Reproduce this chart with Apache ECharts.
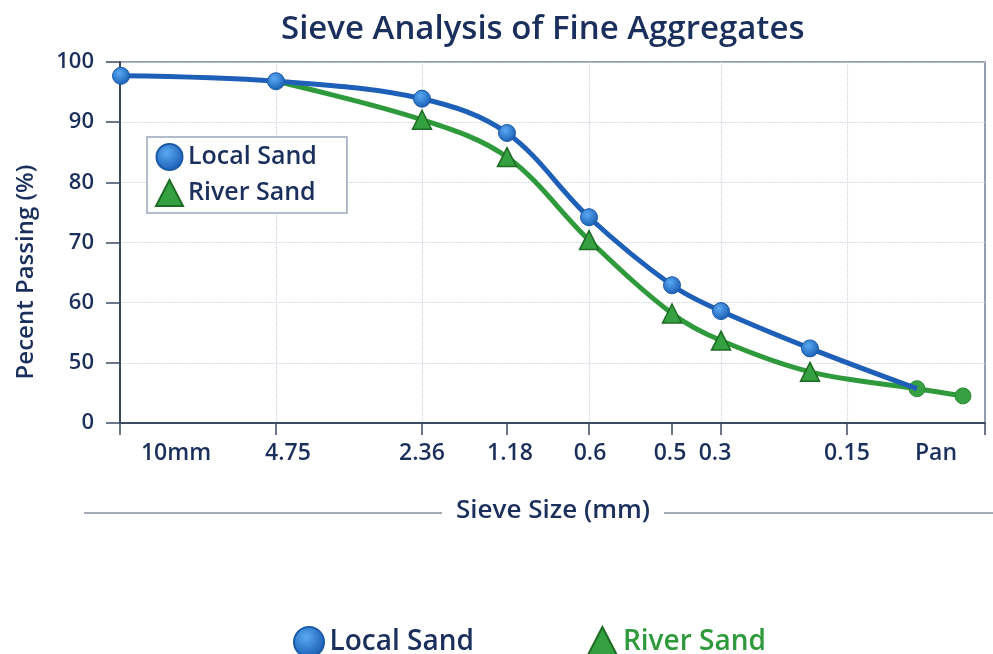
<!DOCTYPE html>
<html>
<head>
<meta charset="utf-8">
<script src="https://cdn.jsdelivr.net/npm/echarts@6/dist/echarts.min.js"></script>
<style>
  html, body { margin: 0; padding: 0; background: #fff; }
  #chart { width: 993px; height: 654px; }
</style>
</head>
<body>
<div id="chart"></div>
<script>
// Sieve positions along the (non-uniform) x axis, in axis units
const pointPos = [1, 156, 302, 387, 469, 552, 601, 690, 797, 843];
const localSand = [97.7, 96.8, 93.9, 88.2, 74.2, 62.9, 58.6, 52.4, 45.7, null];
const riverSand = [null, 96.8, 90.4, 84.2, 70.4, 58.2, 53.7, 48.5, 45.7, 44.5];

// Tick labels and where they sit
const sieveLabels = ['10mm', '4.75', '2.36', '1.18', '0.6', '0.5', '0.3', '0.15', 'Pan'];
const labelPos = [56, 168, 302, 390, 470, 550, 595, 727, 816];
const tickPos = [0, 156, 302, 387, 469, 552, 601, 727, 865];
const vGridPos = [156, 302, 469, 601, 727];

const navy = '#1b2f5c';
const blue = '#1e60b8';
const green = '#2f9a3c';
const font = '"Open Sans", "Noto Sans", sans-serif';

const blueBall = {
    type: 'radial', x: 0.4, y: 0.35, r: 0.7,
    colorStops: [{offset: 0, color: '#5aa9f2'}, {offset: 1, color: '#1659b0'}]
};

function pairs(values) {
    return values.map((v, i) => v === null ? null : [pointPos[i], v]).filter(p => p);
}

let localData = pairs(localSand);
// last local point is hidden under the river sand marker
localData[localData.length - 1] = {value: localData[localData.length - 1], symbol: 'none'};

let riverData = pairs(riverSand).map((p, i, arr) => {
    if (i === 0) return {value: p, symbol: 'none'};
    if (i >= arr.length - 2) {
        return {value: p, symbol: 'circle', symbolSize: 16, itemStyle: {color: '#36a043', borderColor: '#2a8a34', borderWidth: 1}};
    }
    return p;
});

let myChart = echarts.init(document.getElementById('chart'));

let option = {
    backgroundColor: '#fff',
    textStyle: {fontFamily: font},
    title: {
        text: 'Sieve Analysis of Fine Aggregates',
        left: 276,
        top: 8,
        textStyle: {color: navy, fontSize: 33, fontWeight: 600, fontFamily: font}
    },
    grid: {
        left: 120, right: 8, top: 62, bottom: 231,
        show: true, borderColor: '#6f7d92', borderWidth: 1.5, backgroundColor: '#fff'
    },
    legend: [
        {
            left: 147, top: 137,
            orient: 'vertical',
            backgroundColor: '#fff',
            borderColor: '#9aa6bb', borderWidth: 1.5,
            padding: [6, 30, 6, 8],
            itemWidth: 27, itemHeight: 26, itemGap: 8,
            textStyle: {color: navy, fontSize: 25, fontWeight: 600, fontFamily: font},
            data: [
                {name: 'Local Sand', icon: 'circle'},
                {name: 'River Sand', icon: 'triangle'}
            ]
        },
        {
            left: 288, top: 621,
            itemWidth: 31, itemHeight: 30, itemGap: 112,
            textStyle: {fontSize: 28, fontWeight: 600, fontFamily: font},
            data: [
                {name: 'Local Sand', icon: 'circle', textStyle: {color: navy}},
                {name: 'River Sand', icon: 'triangle', textStyle: {color: green}}
            ]
        }
    ],
    xAxis: [
        {
            type: 'value', min: 0, max: 865, position: 'bottom',
            axisLine: {lineStyle: {color: '#3d4a63', width: 2}},
            axisTick: {customValues: tickPos, length: 12, lineStyle: {color: '#3d4a63', width: 1.5}},
            axisLabel: {
                customValues: labelPos,
                margin: 19,
                color: navy, fontSize: 23, fontWeight: 600, fontFamily: font,
                formatter: v => sieveLabels[labelPos.indexOf(v)]
            },
            splitLine: {show: false}
        },
        {
            type: 'value', min: 0, max: 865, position: 'bottom',
            axisLine: {show: false},
            axisTick: {show: false, customValues: vGridPos},
            axisLabel: {show: false},
            splitLine: {show: true, lineStyle: {color: '#c9d1dd', type: 'dotted', width: 1.2}}
        }
    ],
    yAxis: {
        type: 'value', min: 40, max: 100, interval: 10,
        axisLine: {show: true, lineStyle: {color: '#3d4a63', width: 2}},
        axisTick: {show: true, length: 14, lineStyle: {color: '#3d4a63', width: 1.5}},
        axisLabel: {
            margin: 26, color: navy, fontSize: 22, fontWeight: 600, fontFamily: font,
            // the axis is broken: bottom tick stands for 0
            formatter: v => v === 40 ? '0' : String(v)
        },
        splitLine: {show: true, lineStyle: {color: '#c9d1dd', type: 'dotted', width: 1.2}}
    },
    graphic: [
        {
            type: 'text', x: 26, y: 272, rotation: Math.PI / 2,
            style: {text: 'Pecent Passing (%)', fill: navy, fontSize: 24, fontWeight: 600, fontFamily: font, align: 'center', verticalAlign: 'middle'}
        },
        {
            type: 'text', x: 553, y: 511,
            style: {text: 'Sieve Size (mm)', fill: navy, fontSize: 26, fontWeight: 600, fontFamily: font, align: 'center', verticalAlign: 'middle'}
        },
        {type: 'line', shape: {x1: 84, y1: 513, x2: 442, y2: 513}, style: {stroke: '#4a5874', lineWidth: 1.2}},
        {type: 'line', shape: {x1: 664, y1: 513, x2: 993, y2: 513}, style: {stroke: '#4a5874', lineWidth: 1.2}}
    ],
    series: [
        {
            name: 'River Sand', type: 'line', smooth: 0.35, z: 2,
            symbol: 'triangle', symbolSize: 19,
            itemStyle: {color: '#35a040', borderColor: '#1d6b24', borderWidth: 1.5},
            lineStyle: {color: green, width: 5},
            data: riverData
        },
        {
            name: 'Local Sand', type: 'line', smooth: 0.35, z: 3,
            symbol: 'circle', symbolSize: 17,
            itemStyle: {color: blueBall, borderColor: '#1a5aa8', borderWidth: 1},
            lineStyle: {color: blue, width: 5},
            data: localData
        }
    ]
};

myChart.setOption(option);
</script>
</body>
</html>
